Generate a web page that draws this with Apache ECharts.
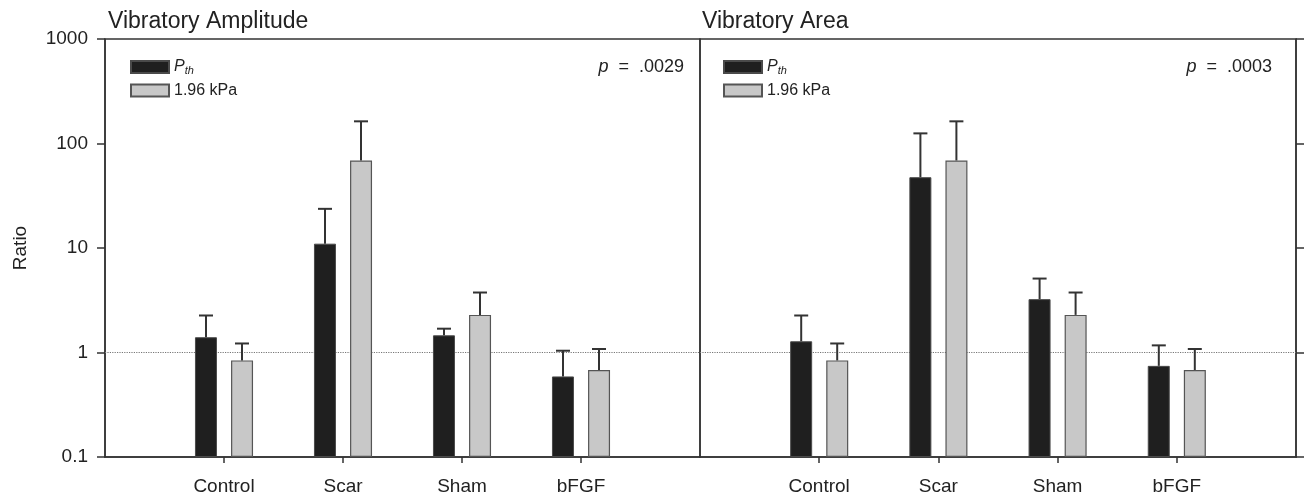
<!DOCTYPE html>
<html>
<head>
<meta charset="utf-8">
<script src="https://cdn.jsdelivr.net/npm/echarts@6/dist/echarts.min.js"></script>
<style>
  html, body { margin: 0; padding: 0; background: #fff; }
  #chart { width: 1311px; height: 500px; }
</style>
</head>
<body>
<div id="chart"></div>
<script>
// categories (padded with empty slots at both ends, like the original plot)
const categories = ["", "Control", "Scar", "Sham", "bFGF", ""];

// Vibratory Amplitude
const ampPth = [1.40, 11.0, 1.46, 0.59];
const ampPthUpper = [2.26, 23.7, 1.69, 1.04];
const ampKpa = [0.84, 68.8, 2.29, 0.68];
const ampKpaUpper = [1.22, 163, 3.75, 1.08];

// Vibratory Area
const areaPth = [1.28, 47.6, 3.24, 0.745];
const areaPthUpper = [2.26, 125, 5.1, 1.17];
const areaKpa = [0.84, 68.8, 2.29, 0.68];
const areaKpaUpper = [1.22, 163, 3.75, 1.08];

const refLine = [[0, 1], [5, 1]];

const FONT = "'Liberation Sans', Arial, sans-serif";
const TEXT = "#222";
const AXIS = "#333";
const BAR_W = 22;
const BAR_GAP = 14;
const OFF = BAR_W / 2 + BAR_GAP / 2;

const chart = echarts.init(document.getElementById("chart"));

function pairs(arr) {
  return arr.map((v, i) => [i + 1, v]);
}
function triples(vals, up) {
  return vals.map((v, i) => [i + 1, v, up[i]]);
}

function errorItem(offset) {
  return function (params, api) {
    const base = api.coord([api.value(0), api.value(1)]);
    const top = api.coord([api.value(0), api.value(2)]);
    const cx = base[0] + offset;
    const st = { stroke: AXIS, lineWidth: 2 };
    return {
      type: "group",
      children: [
        { type: "line", shape: { x1: cx, y1: base[1], x2: cx, y2: top[1] }, style: st },
        { type: "line", shape: { x1: cx - 7, y1: top[1], x2: cx + 7, y2: top[1] }, style: st },
      ],
    };
  };
}

const blackStyle = { color: "#1f1f1f", borderColor: "#4a4a4a", borderWidth: 1 };
const grayStyle = { color: "#c8c8c8", borderColor: "#555", borderWidth: 1.2 };

function panelSeries(idx, pth, pthUp, kpa, kpaUp) {
  return [
    {
      name: "ref" + idx,
      type: "line",
      xAxisIndex: idx,
      yAxisIndex: idx,
      data: refLine,
      symbol: "none",
      silent: true,
      z: 1,
      lineStyle: { type: "dotted", color: "#777", width: 1.2 },
    },
    {
      name: "Pth",
      type: "bar",
      xAxisIndex: idx,
      yAxisIndex: idx,
      data: pairs(pth),
      barWidth: BAR_W,
      barGap: (BAR_GAP / BAR_W * 100).toFixed(0) + "%",
      itemStyle: blackStyle,
      z: 2,
    },
    {
      name: "1.96 kPa",
      type: "bar",
      xAxisIndex: idx,
      yAxisIndex: idx,
      data: pairs(kpa),
      barWidth: BAR_W,
      itemStyle: grayStyle,
      z: 2,
    },
    {
      name: "errPth" + idx,
      type: "custom",
      xAxisIndex: idx,
      yAxisIndex: idx,
      renderItem: errorItem(-OFF),
      data: triples(pth, pthUp),
      z: 3,
    },
    {
      name: "errKpa" + idx,
      type: "custom",
      xAxisIndex: idx,
      yAxisIndex: idx,
      renderItem: errorItem(OFF),
      data: triples(kpa, kpaUp),
      z: 3,
    },
  ];
}

function xAxisFor(idx) {
  return {
    type: "category",
    gridIndex: idx,
    data: categories,
    boundaryGap: false,
    axisLine: { lineStyle: { color: AXIS, width: 1.5 } },
    axisTick: {
      length: 6,
      inside: false,
      interval: (i, v) => v !== "",
      lineStyle: { color: AXIS, width: 1.5 },
    },
    axisLabel: { interval: 0, color: TEXT, fontSize: 19, fontFamily: FONT, margin: 20 },
    splitLine: { show: false },
  };
}

function yAxisFor(idx) {
  const left = idx === 0;
  return {
    type: "log",
    gridIndex: idx,
    logBase: 10,
    min: 0.1,
    max: 1000,
    startValue: 0.1,
    position: left ? "left" : "right",
    name: left ? "Ratio" : "",
    nameLocation: "middle",
    nameGap: 75,
    nameRotate: 90,
    nameTextStyle: { color: TEXT, fontSize: 19, fontFamily: FONT },
    axisLine: { show: true, lineStyle: { color: AXIS, width: 1.5 } },
    axisTick: { show: true, length: 8, lineStyle: { color: AXIS, width: 1.5 } },
    minorTick: { show: false },
    axisLabel: {
      show: left,
      color: TEXT,
      fontSize: 19,
      fontFamily: FONT,
      margin: 17,
      padding: [4, 0, 0, 0],
      formatter: (v) => String(v),
    },
    splitLine: { show: false },
  };
}

function legendFor(left) {
  return {
    orient: "vertical",
    left: left,
    top: 59,
    padding: 0,
    icon: "rect",
    itemWidth: 38,
    itemHeight: 12,
    itemGap: 6,
    selectedMode: false,
    data: ["Pth", "1.96 kPa"],
    formatter: (name) => (name === "Pth" ? "{i|P}{s|th}" : name),
    textStyle: {
      color: TEXT,
      fontSize: 16,
      fontFamily: FONT,
      rich: {
        i: { fontStyle: "italic", fontSize: 16, fontFamily: FONT, color: TEXT },
        s: { fontStyle: "italic", fontSize: 11, fontFamily: FONT, color: TEXT, padding: [8, 0, 0, 0] },
      },
    },
  };
}

function pTitle(text, right) {
  return {
    text: "{i|p}  =  " + text,
    right: right,
    top: 58,
    padding: 0,
    textStyle: {
      color: TEXT,
      fontSize: 18,
      fontWeight: "normal",
      fontFamily: FONT,
      rich: { i: { fontStyle: "italic", fontSize: 18, fontFamily: FONT, color: TEXT } },
    },
  };
}

function panelTitle(text, left) {
  return {
    text: text,
    left: left,
    top: 10,
    padding: 0,
    textStyle: { color: TEXT, fontSize: 23, fontWeight: "normal", fontFamily: FONT },
  };
}

const option = {
  backgroundColor: "#fff",
  animation: false,
  textStyle: { fontFamily: FONT },
  title: [
    panelTitle("Vibratory Amplitude", 108),
    panelTitle("Vibratory Area", 702),
    pTitle(".0029", 627),
    pTitle(".0003", 39),
  ],
  legend: [legendFor(130), legendFor(723)],
  grid: [
    { left: 105, top: 39, width: 595, height: 418, show: true, borderColor: AXIS, borderWidth: 1.5 },
    { left: 700, top: 39, width: 596, height: 418, show: true, borderColor: AXIS, borderWidth: 1.5 },
  ],
  xAxis: [xAxisFor(0), xAxisFor(1)],
  yAxis: [yAxisFor(0), yAxisFor(1)],
  series: [
    ...panelSeries(0, ampPth, ampPthUpper, ampKpa, ampKpaUpper),
    ...panelSeries(1, areaPth, areaPthUpper, areaKpa, areaKpaUpper),
  ],
};

chart.setOption(option);
</script>
</body>
</html>
